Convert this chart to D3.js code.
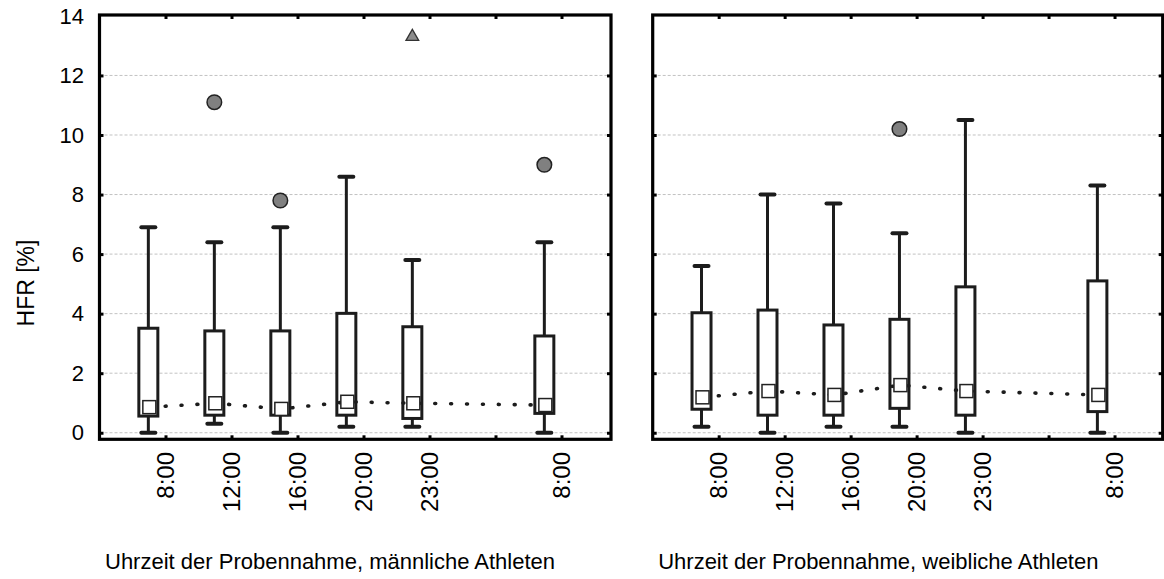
<!DOCTYPE html>
<html>
<head>
<meta charset="utf-8">
<script src="https://cdn.jsdelivr.net/npm/d3@7"></script>
<style>
  body { margin: 0; background: #fff; }
  text { font-family: "Liberation Sans", Arial, sans-serif; fill: #000; }
</style>
</head>
<body>
<div id="chart"></div>
<script>
// categories (slot on the x axis, slot 6 is empty)
var timeLabels = ["8:00", "12:00", "16:00", "20:00", "23:00", "8:00"];
var timeSlots = [1, 2, 3, 4, 5, 7];

// männliche Athleten
var maleMin = [0, 0.3, 0, 0.2, 0.2, 0];
var maleQ1 = [0.56, 0.59, 0.59, 0.59, 0.48, 0.65];
var maleMedian = [0.86, 0.99, 0.80, 1.04, 0.99, 0.93];
var maleQ3 = [3.51, 3.42, 3.42, 4.01, 3.56, 3.25];
var maleMax = [6.9, 6.4, 6.9, 8.6, 5.8, 6.4];
var maleOutliers = [{ slot: 2, value: 11.1 }, { slot: 3, value: 7.8 }, { slot: 7, value: 9.0 }];
var maleExtremes = [{ slot: 5, value: 13.3 }];

// weibliche Athleten
var femaleMin = [0.2, 0, 0.2, 0.2, 0, 0];
var femaleQ1 = [0.79, 0.59, 0.59, 0.82, 0.59, 0.71];
var femaleMedian = [1.19, 1.40, 1.27, 1.60, 1.40, 1.27];
var femaleQ3 = [4.03, 4.12, 3.62, 3.81, 4.90, 5.1];
var femaleMax = [5.6, 8.0, 7.7, 6.7, 10.5, 8.3];
var femaleOutliers = [{ slot: 4, value: 10.2 }];
var femaleExtremes = [];

var yTicks = [0, 2, 4, 6, 8, 10, 12, 14];
var xTicks = [1, 2, 3, 4, 5, 6, 7];

// svg container
var svgWidth = 1164;
var svgHeight = 579;

var svg = d3.select("#chart").append("svg")
  .attr("width", svgWidth)
  .attr("height", svgHeight);

// shared y scale
var yScale = d3.scaleLinear()
  .domain([-0.22, 14.03])
  .range([439.3, 15]);

// boxes sit a bit left of the tick
var boxShift = -0.26;

function buildRows(mins, q1s, meds, q3s, maxs) {
  return timeSlots.map(function(s, i) {
    return { slot: s, min: mins[i], q1: q1s[i], median: meds[i], q3: q3s[i], max: maxs[i] };
  });
}

function drawPanel(left, right, domainMax, rows, outliers, extremes, title, showLabels) {
  var xScale = d3.scaleLinear()
    .domain([0, domainMax])
    .range([left, right]);

  var g = svg.append("g");
  var top = yScale.range()[1];
  var bottom = yScale.range()[0];

  // grid lines
  g.selectAll(".grid")
    .data(yTicks.filter(function(t) { return t < 14; }))
    .enter()
    .append("line")
    .attr("x1", left)
    .attr("x2", right)
    .attr("y1", function(d) { return yScale(d); })
    .attr("y2", function(d) { return yScale(d); })
    .attr("stroke", "#c2c2c2")
    .attr("stroke-width", 1)
    .attr("stroke-dasharray", "3,2");

  // axes with inward ticks
  var axisL = d3.axisLeft(yScale).tickValues(yTicks.slice(0, 7)).tickSize(-4).tickFormat("");
  var axisR = d3.axisRight(yScale).tickValues(yTicks.slice(0, 7)).tickSize(-4).tickFormat("");
  var axisT = d3.axisTop(xScale).tickValues(xTicks).tickSize(-4).tickFormat("");
  var axisB = d3.axisBottom(xScale).tickValues(xTicks).tickSize(-4).tickFormat("");

  [[axisL, `translate(${left},0)`], [axisR, `translate(${right},0)`],
   [axisT, `translate(0,${top})`], [axisB, `translate(0,${bottom})`]].forEach(function(a) {
    var ag = g.append("g").attr("transform", a[1]).call(a[0]);
    ag.select(".domain").remove();
    ag.selectAll(".tick line").attr("stroke", "#000").attr("stroke-width", 3);
  });

  // y tick labels
  if (showLabels) {
    g.selectAll(".ylab")
      .data(yTicks)
      .enter()
      .append("text")
      .attr("x", 84)
      .attr("y", function(d) { return yScale(d); })
      .attr("dy", "0.35em")
      .attr("text-anchor", "end")
      .style("font-size", "22px")
      .text(function(d) { return d; });
  }

  // x tick labels, rotated
  g.selectAll(".xlab")
    .data(timeSlots)
    .enter()
    .append("text")
    .attr("transform", function(d) { return `translate(${xScale(d)},452) rotate(-90)`; })
    .attr("dy", "0.35em")
    .attr("text-anchor", "end")
    .style("font-size", "24px")
    .text(function(d, i) { return timeLabels[i]; });

  // whiskers
  var boxes = g.selectAll(".box")
    .data(rows)
    .enter()
    .append("g")
    .attr("transform", function(d) { return `translate(${xScale(d.slot + boxShift)},0)`; });

  boxes.append("line")
    .attr("y1", function(d) { return yScale(d.max); })
    .attr("y2", function(d) { return yScale(d.min); })
    .attr("stroke", "#1c1c1c")
    .attr("stroke-width", 3);

  boxes.selectAll(".cap")
    .data(function(d) { return [d.max, d.min]; })
    .enter()
    .append("line")
    .attr("x1", -7)
    .attr("x2", 7)
    .attr("y1", function(v) { return yScale(v); })
    .attr("y2", function(v) { return yScale(v); })
    .attr("stroke", "#1c1c1c")
    .attr("stroke-width", 4)
    .attr("stroke-linecap", "round");

  // boxes
  boxes.append("rect")
    .attr("x", -9.5)
    .attr("width", 19)
    .attr("y", function(d) { return yScale(d.q3); })
    .attr("height", function(d) { return yScale(d.q1) - yScale(d.q3); })
    .attr("fill", "#fff")
    .attr("stroke", "#1c1c1c")
    .attr("stroke-width", 3);

  // dotted line through the medians
  var line = d3.line()
    .x(function(d) { return xScale(d.slot + boxShift) + 1; })
    .y(function(d) { return yScale(d.median); });

  g.append("path")
    .datum(rows)
    .attr("d", line)
    .attr("fill", "none")
    .attr("stroke", "#1c1c1c")
    .attr("stroke-width", 3.6)
    .attr("stroke-linecap", "round")
    .attr("stroke-dasharray", "0.9,15");

  // median squares
  g.selectAll(".med")
    .data(rows)
    .enter()
    .append("rect")
    .attr("x", function(d) { return xScale(d.slot + boxShift) + 1 - 6.5; })
    .attr("y", function(d) { return yScale(d.median) - 6.5; })
    .attr("width", 13)
    .attr("height", 13)
    .attr("fill", "#fff")
    .attr("stroke", "#222")
    .attr("stroke-width", 1.5);

  // outliers
  g.selectAll(".out")
    .data(outliers)
    .enter()
    .append("circle")
    .attr("cx", function(d) { return xScale(d.slot + boxShift); })
    .attr("cy", function(d) { return yScale(d.value); })
    .attr("r", 7.3)
    .attr("fill", "#808080")
    .attr("stroke", "#222")
    .attr("stroke-width", 1.5);

  // extremes
  g.selectAll(".ext")
    .data(extremes)
    .enter()
    .append("path")
    .attr("d", d3.symbol().type(d3.symbolTriangle).size(70))
    .attr("transform", function(d) { return `translate(${xScale(d.slot + boxShift)},${yScale(d.value)})`; })
    .attr("fill", "#8c8c8c")
    .attr("stroke", "#333")
    .attr("stroke-width", 1.3);

  // frame
  g.append("rect")
    .attr("x", left)
    .attr("y", top)
    .attr("width", right - left)
    .attr("height", bottom - top)
    .attr("fill", "none")
    .attr("stroke", "#000")
    .attr("stroke-width", 3.2);

  // title under the panel
  g.append("text")
    .attr("x", left + 5.5)
    .attr("y", 569)
    .style("font-size", "22px")
    .text(title);
}

drawPanel(99.5, 611, 7.75,
  buildRows(maleMin, maleQ1, maleMedian, maleQ3, maleMax),
  maleOutliers, maleExtremes,
  "Uhrzeit der Probennahme, männliche Athleten", true);

drawPanel(652.7, 1162.7, 7.73,
  buildRows(femaleMin, femaleQ1, femaleMedian, femaleQ3, femaleMax),
  femaleOutliers, femaleExtremes,
  "Uhrzeit der Probennahme, weibliche Athleten", false);

// y axis title
svg.append("text")
  .attr("transform", "translate(33.5,283) rotate(-90)")
  .attr("text-anchor", "middle")
  .style("font-size", "23px")
  .text("HFR [%]");
</script>
</body>
</html>
